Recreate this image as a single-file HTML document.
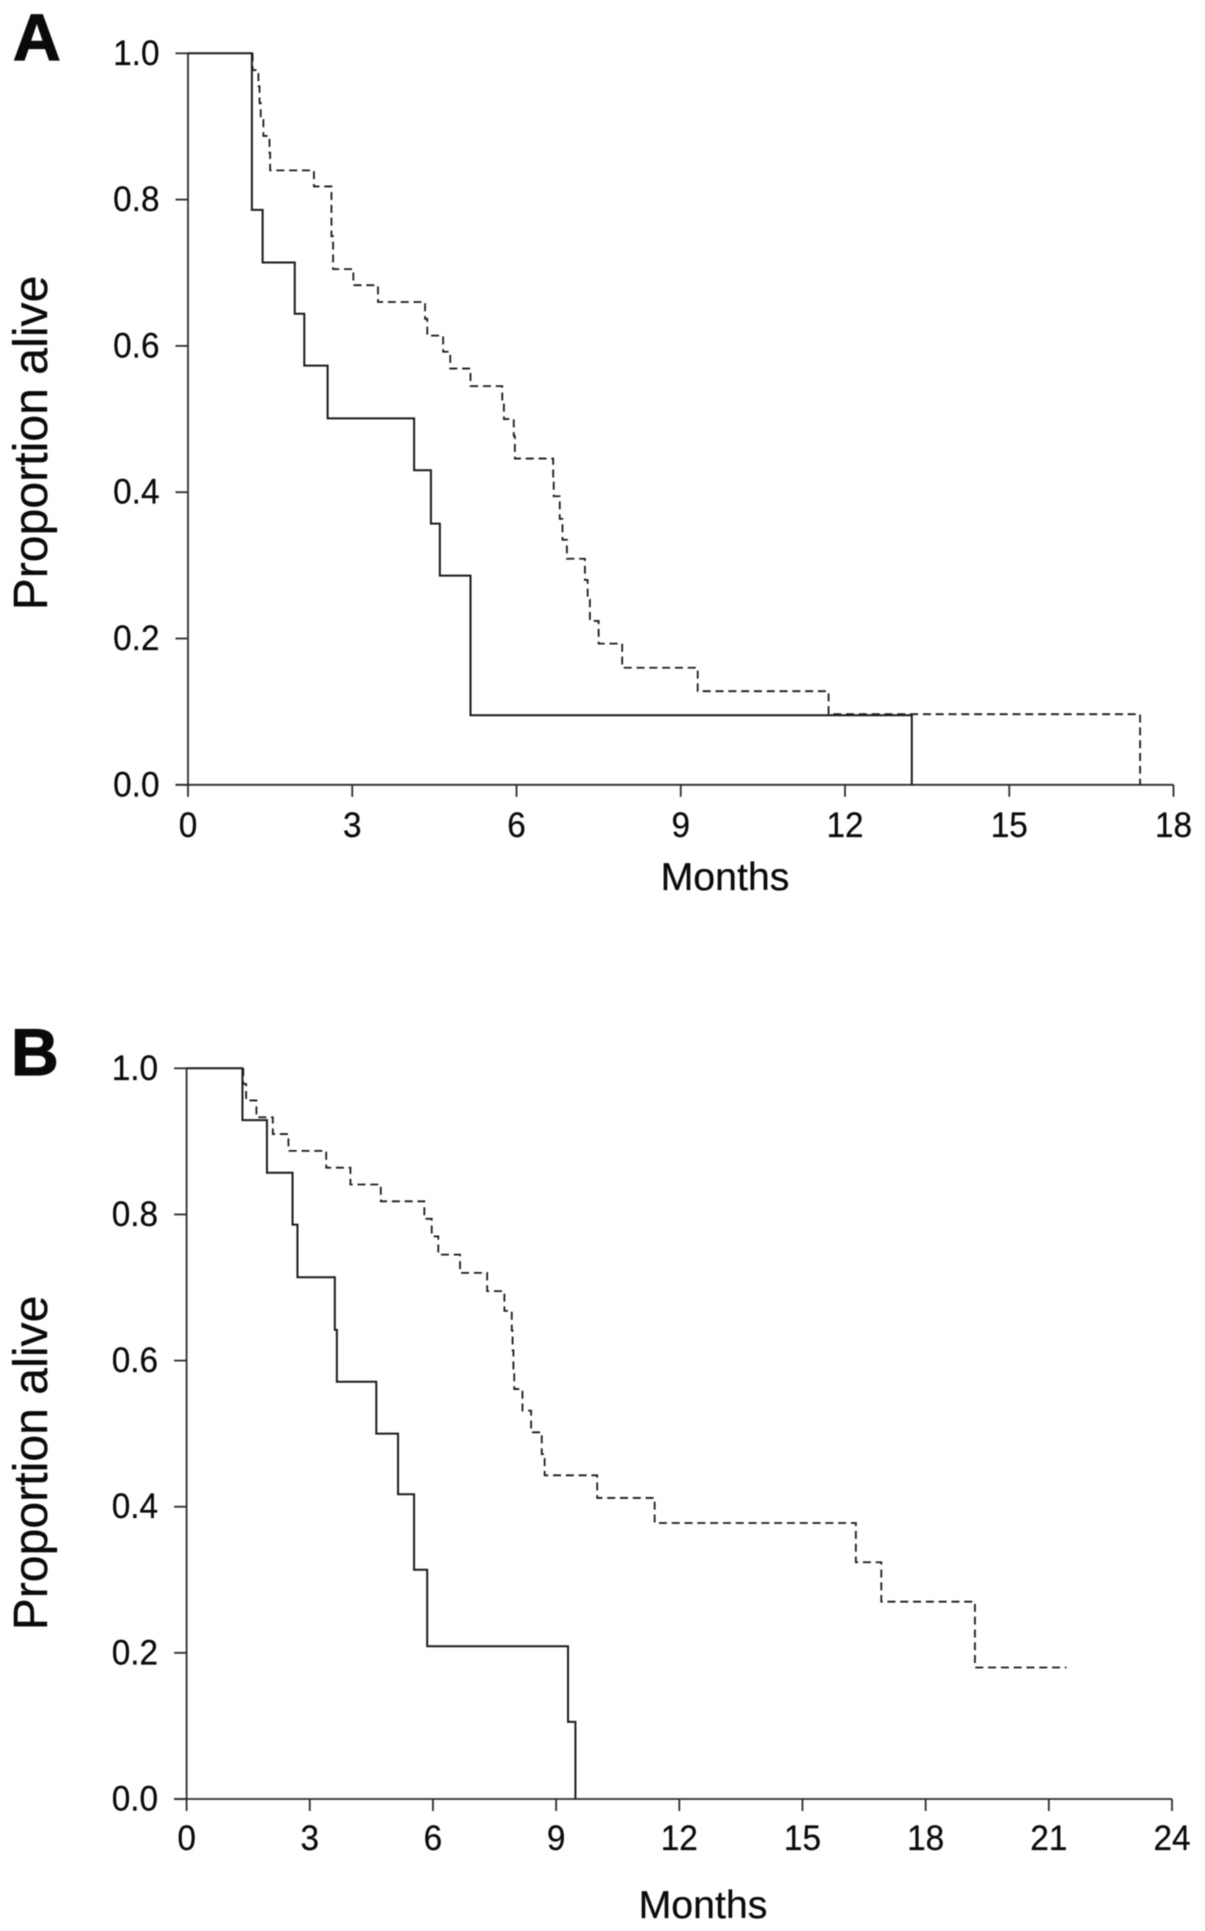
<!DOCTYPE html>
<html lang="en">
<head>
<meta charset="utf-8">
<title>Survival curves</title>
<style>
html,body{margin:0;padding:0;background:#fff;}
svg{display:block;filter:blur(.4px);}
text{font-family:"Liberation Sans",Arial,sans-serif;fill:#0a0a0a;}
</style>
</head>
<body>
<svg id="chart" xmlns="http://www.w3.org/2000/svg" width="1205" height="1931" viewBox="0 0 1205 1931"></svg>
<script>
const yTicks = [0, 0.2, 0.4, 0.6, 0.8, 1.0];
const yTickLabels = ["0.0", "0.2", "0.4", "0.6", "0.8", "1.0"];

const aXTicks = [0, 3, 6, 9, 12, 15, 18];
const aSolidTimes = [1.167, 1.363, 1.95, 2.124, 2.55, 4.13, 4.437, 4.6, 5.16, 13.22];
const aSolidValues = [0.786, 0.714, 0.644, 0.573, 0.501, 0.43, 0.357, 0.286, 0.095, 0];
const aDashTimes = [1.18, 1.286, 1.307, 1.328, 1.377, 1.488, 1.5, 2.3, 2.62, 2.65, 3.02, 3.47, 4.33, 4.37, 4.66, 4.79, 5.16, 5.74, 5.77, 5.95, 5.97, 6.67, 6.68, 6.79, 6.84, 6.92, 7.25, 7.3, 7.34, 7.5, 7.93, 9.31, 11.7, 17.39];
const aDashValues = [0.977, 0.955, 0.932, 0.909, 0.887, 0.864, 0.84, 0.818, 0.75, 0.705, 0.683, 0.66, 0.637, 0.614, 0.592, 0.569, 0.545, 0.523, 0.5, 0.477, 0.446, 0.42, 0.3945, 0.3635, 0.335, 0.309, 0.28, 0.253, 0.224, 0.193, 0.16, 0.128, 0.0965, 0];

const bXTicks = [0, 3, 6, 9, 12, 15, 18, 21, 24];
const bSolidTimes = [1.36, 1.957, 2.58, 2.7, 3.61, 3.66, 4.62, 5.15, 5.54, 5.86, 9.29, 9.47];
const bSolidValues = [0.929, 0.857, 0.786, 0.714, 0.642, 0.571, 0.5, 0.417, 0.3137, 0.209, 0.1055, 0];
const bDashTimes = [1.38, 1.45, 1.7, 2.1, 2.48, 3.4, 3.99, 4.73, 5.79, 5.97, 6.13, 6.66, 7.32, 7.74, 7.92, 7.94, 7.96, 7.98, 8.18, 8.39, 8.65, 8.72, 10.0, 11.4, 16.3, 16.92, 19.2];
const bDashValues = [0.9785, 0.956, 0.933, 0.91, 0.887, 0.864, 0.841, 0.818, 0.794, 0.77, 0.745, 0.72, 0.695, 0.668, 0.641, 0.614, 0.586, 0.561, 0.5315, 0.5018, 0.472, 0.443, 0.412, 0.3777, 0.324, 0.27, 0.18];
const bDashEnd = 21.43;

const NS = "http://www.w3.org/2000/svg";
const root = document.getElementById("chart");

function make(tag, attrs, parent) {
  const el = document.createElementNS(NS, tag);
  for (const k in attrs) el.setAttribute(k, attrs[k]);
  parent.appendChild(el);
  return el;
}

function stepPath(times, values, startT, startV, endT, x, y) {
  let d = "M" + x(startT).toFixed(2) + " " + y(startV).toFixed(2);
  let prev = startV;
  for (let i = 0; i < times.length; i++) {
    d += "L" + x(times[i]).toFixed(2) + " " + y(prev).toFixed(2);
    d += "L" + x(times[i]).toFixed(2) + " " + y(values[i]).toFixed(2);
    prev = values[i];
  }
  if (endT !== null) d += "L" + x(endT).toFixed(2) + " " + y(prev).toFixed(2);
  return d;
}

function drawPanel(cfg) {
  const g = make("g", {}, root);
  
  
  const x = t => cfg.x0 + (t / cfg.xMax) * (cfg.x1 - cfg.x0);
  const y = v => cfg.y0 + v * (cfg.y1 - cfg.y0);
  const axisStyle = {stroke: "#2c2c2c", "stroke-width": 1.8, fill: "none"};
  const tickText = {"font-size": 35.5, stroke: "#0a0a0a", "stroke-width": 0.25};

  const letter = make("text", {x: cfg.letterX, y: cfg.letterY, "font-size": 66, "font-weight": 700, stroke: "#0a0a0a", "stroke-width": 1.2}, g);
  
  
  letter.textContent = cfg.letter;

  const yAxis = make("line", Object.assign({x1: x(0), x2: x(0), y1: y(0), y2: y(1)}, axisStyle), g);
  
  

  const xAxis = make("line", Object.assign({x1: x(0) - 12.5, x2: x(cfg.xMax), y1: y(0), y2: y(0)}, axisStyle), g);
  
  

  yTicks.forEach((v, i) => {
    const tick = make("line", Object.assign({x1: x(0) - 12.5, x2: x(0), y1: y(v), y2: y(v)}, axisStyle), g);
    
    
    const lab = make("text", Object.assign({"text-anchor": "end", transform: "translate(" + (x(0) - 28.5) + " " + (y(v) + 11.5) + ") scale(.94 1)"}, tickText), g);
    
    
    lab.textContent = yTickLabels[i];
  });

  cfg.xTicks.forEach(t => {
    const tick = make("line", Object.assign({x1: x(t), x2: x(t), y1: y(0), y2: y(0) + 12}, axisStyle), g);
    
    
    const lab = make("text", Object.assign({"text-anchor": "middle", transform: "translate(" + x(t) + " " + cfg.xTickBase + ") scale(.94 1)"}, tickText), g);
    
    
    lab.textContent = String(t);
  });

  const xTitle = make("text", {x: cfg.xTitleX, y: cfg.xTitleY, "font-size": 39.3, "text-anchor": "middle", stroke: "#0a0a0a", "stroke-width": 0.25}, g);
  
  
  xTitle.textContent = "Months";

  const yTitle = make("text", {x: 0, y: 0, "font-size": 48.2, "text-anchor": "middle", stroke: "#0a0a0a", "stroke-width": 0.25, transform: "translate(47 " + cfg.yTitleY + ") rotate(-90)"}, g);
  
  
  yTitle.textContent = "Proportion alive";

  const dash = make("path", {d: stepPath(cfg.dashT, cfg.dashV, cfg.dashT[0], 1, cfg.dashEnd, x, y), fill: "none", stroke: "#1a1a1a", "stroke-width": 1.8, "stroke-dasharray": "8 4.8"}, g);
  
  

  const solid = make("path", {d: stepPath(cfg.solidT, cfg.solidV, 0, 1, null, x, y), fill: "none", stroke: "#1a1a1a", "stroke-width": 2}, g);
  
  
}

drawPanel({
  id: "a", letter: "A", letterX: 13, letterY: 60,
  x0: 188, x1: 1173.5, xMax: 18, y0: 784.8, y1: 53.3,
  xTicks: aXTicks, xTickBase: 837, xTitleX: 725, xTitleY: 890, yTitleY: 443,
  solidT: aSolidTimes, solidV: aSolidValues, dashT: aDashTimes, dashV: aDashValues, dashEnd: null
});
drawPanel({
  id: "b", letter: "B", letterX: 11, letterY: 1075,
  x0: 186.6, x1: 1172, xMax: 24, y0: 1799, y1: 1068.3,
  xTicks: bXTicks, xTickBase: 1850, xTitleX: 703, xTitleY: 1918, yTitleY: 1463,
  solidT: bSolidTimes, solidV: bSolidValues, dashT: bDashTimes, dashV: bDashValues, dashEnd: bDashEnd
});
</script>
</body>
</html>
